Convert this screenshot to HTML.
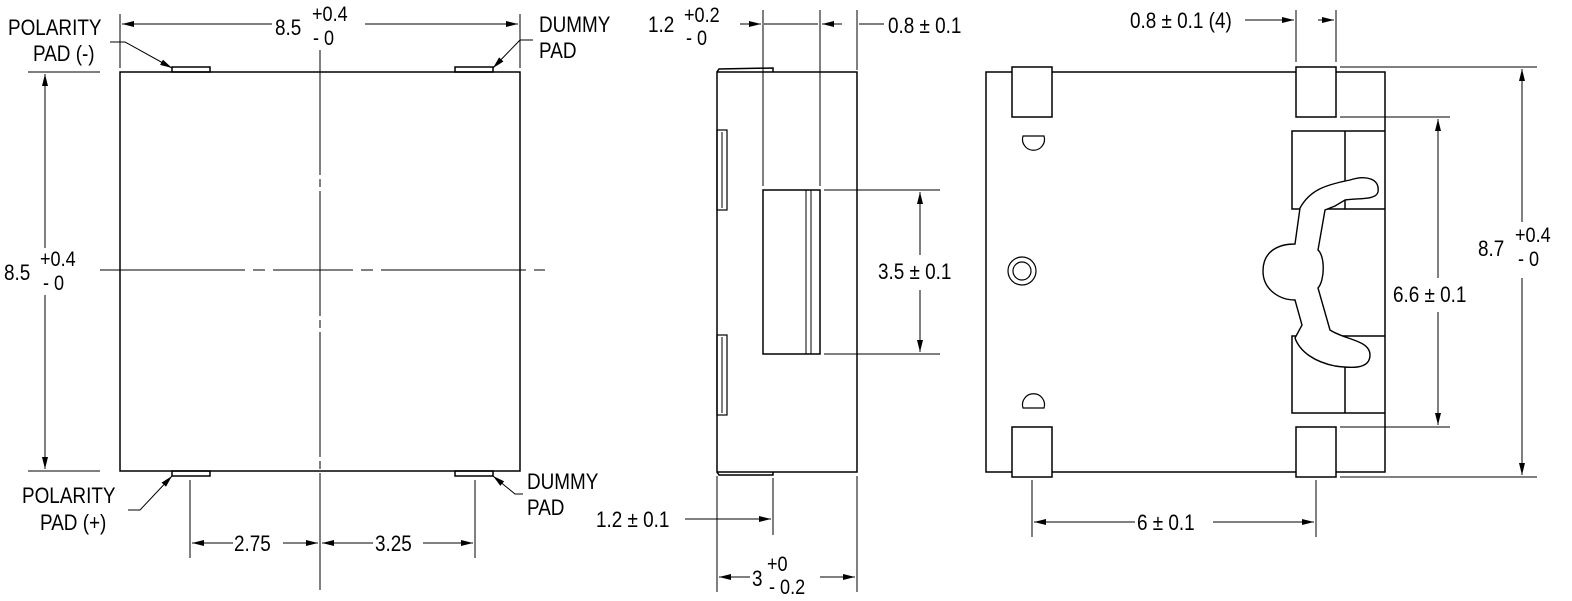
<!DOCTYPE html>
<html><head><meta charset="utf-8"><style>
html,body{margin:0;padding:0;background:#fff;}
svg{display:block;}
text{font-family:"Liberation Sans",sans-serif;font-size:22px;fill:#000;transform-box:fill-box;transform-origin:0 0;transform:scaleX(0.86);}
.s{font-size:21px;}
</style></head><body>
<svg width="1572" height="601" viewBox="0 0 1572 601" xmlns="http://www.w3.org/2000/svg">
<defs>
<marker id="a" viewBox="0 0 12 6" refX="12" refY="3" markerWidth="12" markerHeight="6" orient="auto-start-reverse" markerUnits="userSpaceOnUse"><path d="M0,0 L12,3 L0,6 z" fill="#000"/></marker>
</defs>
<g stroke="#000" stroke-width="1.5" fill="none">
<!-- LEFT VIEW -->
<rect x="120" y="72" width="400" height="399"/>
<rect x="172" y="67" width="38" height="5"/>
<rect x="455" y="67" width="38" height="5"/>
<rect x="172" y="471" width="38" height="5"/>
<rect x="455" y="471" width="38" height="5"/>
<line x1="320" y1="50" x2="320" y2="590" stroke-width="1" stroke-dasharray="125,4,8,4"/>
<line x1="100" y1="270" x2="545" y2="270" stroke-width="1" stroke-dasharray="145,8,12,8,80,8,12,8"/>
<line x1="120" y1="14" x2="120" y2="68" stroke-width="1"/>
<line x1="520" y1="14" x2="520" y2="68" stroke-width="1"/>
<line x1="122" y1="24" x2="272" y2="24" stroke-width="1" marker-start="url(#a)"/>
<line x1="365" y1="24" x2="518" y2="24" stroke-width="1" marker-end="url(#a)"/>
<line x1="28" y1="72" x2="100" y2="72" stroke-width="1"/>
<line x1="28" y1="471" x2="100" y2="471" stroke-width="1"/>
<line x1="45" y1="74" x2="45" y2="248" stroke-width="1" marker-start="url(#a)"/>
<line x1="45" y1="295" x2="45" y2="469" stroke-width="1" marker-end="url(#a)"/>
<polyline points="110,42 125,42 172,68" stroke-width="1" marker-end="url(#a)"/>
<polyline points="533,40 520,40 493,68" stroke-width="1" marker-end="url(#a)"/>
<polyline points="128,510 140,510 172,476" stroke-width="1" marker-end="url(#a)"/>
<polyline points="523,494 515,494 493,476" stroke-width="1" marker-end="url(#a)"/>
<line x1="190" y1="480" x2="190" y2="558" stroke-width="1"/>
<line x1="475" y1="480" x2="475" y2="558" stroke-width="1"/>
<line x1="192" y1="543" x2="233" y2="543" stroke-width="1" marker-start="url(#a)"/>
<line x1="283" y1="543" x2="318" y2="543" stroke-width="1" marker-end="url(#a)"/>
<line x1="322" y1="543" x2="373" y2="543" stroke-width="1" marker-start="url(#a)"/>
<line x1="423" y1="543" x2="473" y2="543" stroke-width="1" marker-end="url(#a)"/>
<!-- MIDDLE VIEW -->
<rect x="717" y="72" width="140" height="400"/>
<path d="M717,72 L719,69 L773,68 L773,72"/>
<path d="M717,472 L719,475 L773,475 L773,472"/>
<rect x="717" y="130" width="10" height="80" stroke-width="1.2"/>
<line x1="722" y1="132" x2="722" y2="208" stroke-width="1"/>
<rect x="717" y="335" width="10" height="80" stroke-width="1.2"/>
<line x1="722" y1="337" x2="722" y2="413" stroke-width="1"/>
<rect x="763" y="190" width="57" height="164"/>
<line x1="806" y1="190" x2="806" y2="354" stroke-width="1"/>
<line x1="811" y1="190" x2="811" y2="354" stroke-width="1"/>
<line x1="763" y1="10" x2="763" y2="186" stroke-width="1"/>
<line x1="820" y1="10" x2="820" y2="186" stroke-width="1"/>
<line x1="857" y1="10" x2="857" y2="70" stroke-width="1"/>
<line x1="740" y1="24" x2="761" y2="24" stroke-width="1" marker-end="url(#a)"/>
<line x1="764" y1="24" x2="818" y2="24" stroke-width="1"/>
<line x1="842" y1="24" x2="822" y2="24" stroke-width="1" marker-end="url(#a)"/>
<line x1="859" y1="24" x2="884" y2="24" stroke-width="1"/>
<line x1="824" y1="190" x2="940" y2="190" stroke-width="1"/>
<line x1="824" y1="354" x2="940" y2="354" stroke-width="1"/>
<line x1="920" y1="192" x2="920" y2="255" stroke-width="1" marker-start="url(#a)"/>
<line x1="920" y1="290" x2="920" y2="352" stroke-width="1" marker-end="url(#a)"/>
<line x1="717" y1="476" x2="717" y2="592" stroke-width="1"/>
<line x1="773" y1="478" x2="773" y2="535" stroke-width="1"/>
<line x1="857" y1="476" x2="857" y2="592" stroke-width="1"/>
<line x1="685" y1="519" x2="771" y2="519" stroke-width="1" marker-end="url(#a)"/>
<line x1="719" y1="577" x2="750" y2="577" stroke-width="1" marker-start="url(#a)"/>
<line x1="820" y1="577" x2="855" y2="577" stroke-width="1" marker-end="url(#a)"/>
<!-- RIGHT VIEW -->
<rect x="986" y="72" width="399" height="400"/>
<rect x="1012" y="67" width="40" height="50" fill="#fff"/>
<rect x="1296" y="67" width="40" height="50" fill="#fff"/>
<rect x="1012" y="427" width="40" height="50" fill="#fff"/>
<rect x="1296" y="427" width="40" height="50" fill="#fff"/>
<path d="M1023,136 L1044,136 A11,11 0 1 1 1023,136 Z" stroke-width="1.2"/>
<path d="M1023,408 L1044,408 A11,11 0 1 0 1023,408 Z" stroke-width="1.2"/>
<circle cx="1022" cy="271" r="14" stroke-width="1.2"/>
<circle cx="1022" cy="271" r="9" stroke-width="1.2"/>
<polyline points="1385,131 1292,131 1292,209 1345,209 1345,131"/>
<line x1="1345" y1="209" x2="1385" y2="209"/>
<polyline points="1385,413 1292,413 1292,336 1345,336 1345,413"/>
<line x1="1345" y1="336" x2="1385" y2="336"/>
<path d="M1300,208 C1310,190 1325,185 1350,180 C1365,175 1380,178 1378,192 C1376,200 1360,198 1345,200 L1335,206 L1325,210 L1318,250 C1325,256 1325,280 1318,288 L1330,330 C1345,340 1370,340 1370,355 C1370,370 1350,368 1335,366 C1315,362 1300,352 1295,338 L1302,325 L1295,300 C1280,300 1263,290 1263,271 C1263,250 1280,244 1295,244 Z" fill="#fff" stroke-width="1.4"/>
<line x1="1296" y1="10" x2="1296" y2="62" stroke-width="1"/>
<line x1="1336" y1="10" x2="1336" y2="62" stroke-width="1"/>
<line x1="1245" y1="20" x2="1294" y2="20" stroke-width="1" marker-end="url(#a)"/>
<line x1="1318" y1="20" x2="1334" y2="20" stroke-width="1" marker-end="url(#a)"/>
<line x1="1340" y1="67" x2="1537" y2="67" stroke-width="1"/>
<line x1="1340" y1="477" x2="1537" y2="477" stroke-width="1"/>
<line x1="1522" y1="69" x2="1522" y2="222" stroke-width="1" marker-start="url(#a)"/>
<line x1="1522" y1="278" x2="1522" y2="475" stroke-width="1" marker-end="url(#a)"/>
<line x1="1340" y1="117" x2="1450" y2="117" stroke-width="1"/>
<line x1="1340" y1="427" x2="1450" y2="427" stroke-width="1"/>
<line x1="1438" y1="119" x2="1438" y2="278" stroke-width="1" marker-start="url(#a)"/>
<line x1="1438" y1="312" x2="1438" y2="425" stroke-width="1" marker-end="url(#a)"/>
<line x1="1032" y1="480" x2="1032" y2="537" stroke-width="1"/>
<line x1="1316" y1="480" x2="1316" y2="537" stroke-width="1"/>
<line x1="1034" y1="522" x2="1135" y2="522" stroke-width="1" marker-start="url(#a)"/>
<line x1="1213" y1="522" x2="1314" y2="522" stroke-width="1" marker-end="url(#a)"/>
</g>
<!-- TEXT -->
<text x="8" y="35">POLARITY</text>
<text x="33" y="61">PAD (-)</text>
<text x="539" y="32">DUMMY</text>
<text x="539" y="58">PAD</text>
<text x="275" y="35">8.5</text>
<text x="312" y="21" class="s">+0.4</text>
<text x="313" y="45" class="s">- 0</text>
<text x="4" y="280">8.5</text>
<text x="40" y="266" class="s">+0.4</text>
<text x="43" y="290" class="s">- 0</text>
<text x="22" y="503">POLARITY</text>
<text x="40" y="530">PAD (+)</text>
<text x="527" y="489">DUMMY</text>
<text x="527" y="515">PAD</text>
<text x="234" y="551">2.75</text>
<text x="375" y="551">3.25</text>
<text x="648" y="32">1.2</text>
<text x="684" y="22" class="s">+0.2</text>
<text x="686" y="45" class="s">- 0</text>
<text x="888" y="33">0.8 ± 0.1</text>
<text x="878" y="279">3.5 ± 0.1</text>
<text x="596" y="527">1.2 ± 0.1</text>
<text x="752" y="586">3</text>
<text x="767" y="571" class="s">+0</text>
<text x="769" y="594" class="s">- 0.2</text>
<text x="1130" y="28">0.8 ± 0.1 (4)</text>
<text x="1393" y="302">6.6 ± 0.1</text>
<text x="1478" y="256">8.7</text>
<text x="1515" y="242" class="s">+0.4</text>
<text x="1518" y="266" class="s">- 0</text>
<text x="1137" y="530">6 ± 0.1</text>
</svg>
</body></html>
